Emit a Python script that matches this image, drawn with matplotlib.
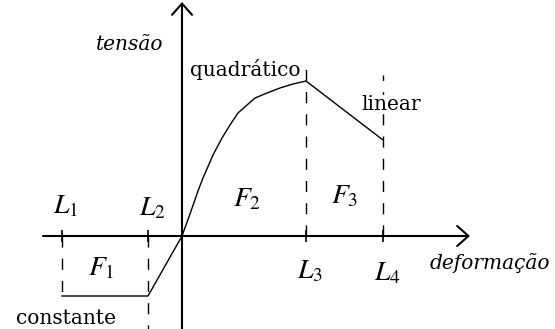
import matplotlib
matplotlib.use("Agg")
import matplotlib.pyplot as plt

# Stress-strain sketch, units = pixel offsets from the origin
L_pos = [-120, -34, 124, 201]
L_labels = ["$L_1$", "$L_2$", "$L_3$", "$L_4$"]
F_labels = ["$F_1$", "$F_2$", "$F_3$"]

strain = [-120, -34, 0, 8, 16, 21, 31, 40, 48, 56, 65, 73, 85, 98, 111, 124, 201]
stress = [-60, -60, 0, 22, 45, 58, 81, 98, 111, 123, 131, 138, 143, 148, 152, 155, 96]

SERIF = "DejaVu Serif"
plt.rcParams["mathtext.fontset"] = "stix"

fig = plt.figure(figsize=(5.55, 3.29), dpi=100)
ax = fig.add_axes([0, 0, 1, 1])
ax.set_xlim(-182, 373)
ax.set_ylim(-93, 236)
ax.axis("off")

# axes with open arrows
arrow = dict(arrowstyle="->,head_length=0.45,head_width=0.4", lw=1.5, color="black",
             shrinkA=0, shrinkB=0, mutation_scale=18)
ax.annotate("", xy=(288, 0), xytext=(-139, 0), arrowprops=arrow)
ax.annotate("", xy=(0, 234), xytext=(0, -93), arrowprops=arrow)

# tick marks
ax.vlines(L_pos, -6, 6, color="black", lw=1.2)

# dashed guides
dash = dict(color="black", lw=1, linestyles=(0, (8, 8)))
ax.vlines(L_pos[0], 0, stress[0], **dash)
ax.vlines(L_pos[1], 0, -93, **dash)
ax.vlines(L_pos[2], 0, 173, **dash)
ax.vlines(L_pos[3], 0, 161, **dash)

# the curve
ax.plot(strain, stress, color="black", lw=1)

# labels
txt = dict(fontsize=14.5, family=SERIF, ha="center", va="center")
ax.text(-52, 191, "tensão", style="italic", **txt)
ax.text(308, -27, "deformação", style="italic", **txt)
ax.text(63, 167, "quadrático", **txt)
ax.text(209, 132, "linear", bbox=dict(facecolor="white", edgecolor="none", pad=0), **txt)
ax.text(-116, -82, "constante", **txt)

lab = dict(fontsize=20, ha="center", va="center")
for x, y, s in zip(L_pos, [31, 29, -34, -36], L_labels):
    ax.text(x + 4, y, s, **lab)
for x, y, s in zip([-81, 65, 163], [-31, 38, 41], F_labels):
    ax.text(x, y, s, **lab)

fig.savefig("out.png", dpi=100, facecolor="white")
